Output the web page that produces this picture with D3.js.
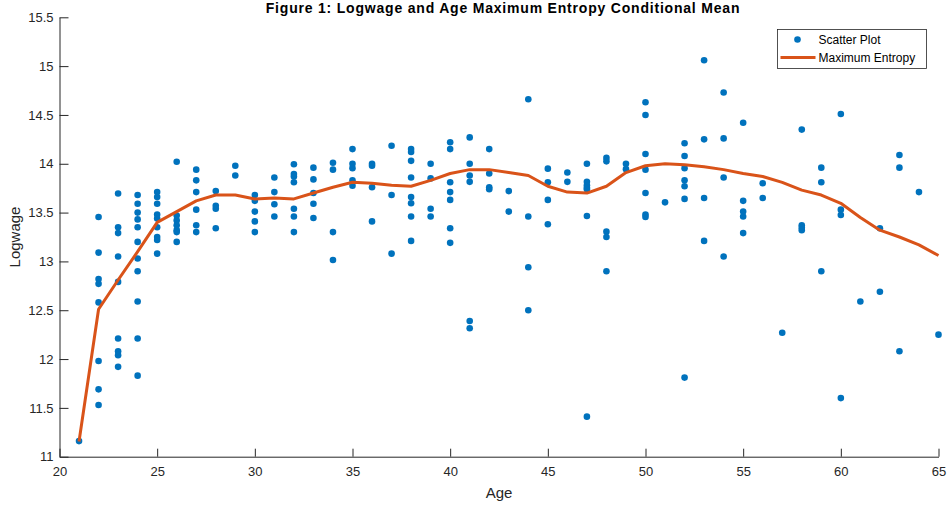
<!DOCTYPE html>
<html lang="en">
<head>
<meta charset="utf-8">
<title>Logwage and Age</title>
<style>
  body { margin: 0; background: #fff; }
  text { font-family: "Liberation Sans", Arial, sans-serif; fill: #262626; }
  .axis path, .axis line { stroke: #262626; }
  .axis text { font-size: 13px; fill: #262626; }
</style>
</head>
<body>
<script src="https://cdn.jsdelivr.net/npm/d3@7"></script>
<script>
// scatter data: one entry of logwage values per age
var scatterAges = [21, 22, 23, 24, 25, 26, 27, 28, 29, 30, 31, 32, 33, 34, 35, 36, 37, 38, 39, 40,
  41, 42, 43, 44, 45, 46, 47, 48, 49, 50, 51, 52, 53, 54, 55, 56, 57, 58, 59, 60, 61, 62, 63, 64, 65];
var scatterLogwage = [
  [11.16],
  [13.455, 13.09, 12.82, 12.77, 12.58, 11.98, 11.69, 11.53],
  [13.695, 13.35, 13.29, 13.05, 12.79, 12.21, 12.08, 12.04, 11.92],
  [13.68, 13.59, 13.50, 13.43, 13.35, 13.20, 13.03, 12.90, 12.59, 12.21, 11.83],
  [13.71, 13.66, 13.59, 13.48, 13.44, 13.35, 13.25, 13.22, 13.08],
  [14.02, 13.47, 13.42, 13.37, 13.32, 13.30, 13.20],
  [13.94, 13.83, 13.71, 13.53, 13.37, 13.30],
  [13.72, 13.57, 13.54, 13.34],
  [13.98, 13.88],
  [13.68, 13.62, 13.51, 13.41, 13.30],
  [13.86, 13.71, 13.585, 13.46],
  [13.995, 13.895, 13.87, 13.81, 13.54, 13.46, 13.30],
  [13.96, 13.84, 13.70, 13.59, 13.445],
  [14.01, 13.94, 13.30, 13.015],
  [14.15, 14.0, 13.955, 13.83, 13.775],
  [14.0, 13.98, 13.76, 13.41],
  [14.185, 13.68, 13.08],
  [14.15, 14.12, 14.03, 13.86, 13.66, 13.595, 13.46, 13.21],
  [14.0, 13.85, 13.54, 13.46],
  [14.22, 14.15, 13.81, 13.71, 13.63, 13.34, 13.19],
  [14.27, 14.0, 13.88, 13.815, 12.39, 12.315],
  [14.15, 13.90, 13.76, 13.74],
  [13.72, 13.51],
  [14.66, 13.46, 12.94, 12.50],
  [13.95, 13.81, 13.63, 13.38],
  [13.91, 13.815],
  [14.0, 13.815, 13.78, 13.755, 13.74, 13.465, 11.41],
  [14.06, 14.025, 13.305, 13.25, 12.90],
  [14.0, 13.945],
  [14.63, 14.50, 14.10, 13.94, 13.70, 13.48, 13.455],
  [13.605],
  [14.21, 14.08, 13.955, 13.83, 13.77, 13.64, 11.81],
  [15.06, 14.25, 13.65, 13.21],
  [14.73, 14.26, 13.86, 13.05],
  [14.42, 13.62, 13.51, 13.46, 13.29],
  [13.80, 13.65],
  [12.27],
  [14.35, 13.37, 13.345, 13.32],
  [13.96, 13.81, 12.90],
  [14.51, 13.53, 13.475, 11.60],
  [12.59],
  [13.34, 12.69],
  [14.09, 13.96, 12.08],
  [13.71],
  [12.25]
];

// maximum entropy conditional mean
var meAges = [21, 22, 23, 24, 25, 26, 27, 28, 29, 30, 31, 32, 33, 34, 35, 36, 37, 38, 39, 40,
  41, 42, 43, 44, 45, 46, 47, 48, 49, 50, 51, 52, 53, 54, 55, 56, 57, 58, 59, 60, 61, 62, 63, 64, 65];
var meLogwage = [11.155, 12.51, 12.81, 13.10, 13.40, 13.51, 13.62, 13.68, 13.68, 13.64,
  13.65, 13.64, 13.70, 13.76, 13.81, 13.80, 13.78, 13.77, 13.83, 13.90,
  13.94, 13.94, 13.91, 13.88, 13.77, 13.71, 13.70, 13.77, 13.91, 13.98,
  14.00, 13.99, 13.97, 13.94, 13.90, 13.87, 13.81, 13.73, 13.68, 13.595,
  13.45, 13.32, 13.25, 13.17, 13.06];

var xTicks = [20, 25, 30, 35, 40, 45, 50, 55, 60, 65];
var yTicks = [11, 11.5, 12, 12.5, 13, 13.5, 14, 14.5, 15, 15.5];

// plot box (plotLeft etc. to avoid window.top clash)
var w = 948, h = 508;
var plotLeft = 59.5, plotRight = 938.5, plotTop = 17.3, plotBottom = 456.7;
var blue = "#0072BD", orange = "#D95319";

var svg = d3.select("body").append("svg")
  .attr("width", w)
  .attr("height", h);

var xScale = d3.scaleLinear().domain([20, 65]).range([plotLeft, plotRight]);
var yScale = d3.scaleLinear().domain([11, 15.5]).range([plotBottom, plotTop]);

// flatten scatter into points
var points = [];
scatterAges.forEach(function(a, i) {
  scatterLogwage[i].forEach(function(v) { points.push([a, v]); });
});

// axes, ticks point inward; labels like 15.5, 15, 14.5 ...
var xAxis = d3.axisBottom(xScale).tickValues(xTicks).tickSizeInner(-8).tickSizeOuter(0).tickPadding(10);
var yAxis = d3.axisLeft(yScale).tickValues(yTicks).tickFormat(d3.format("~g"))
  .tickSizeInner(-9).tickSizeOuter(0).tickPadding(6);

svg.append("g")
  .attr("class", "axis xaxis")
  .attr("transform", "translate(0," + plotBottom + ")")
  .call(xAxis);

svg.append("g")
  .attr("class", "axis yaxis")
  .attr("transform", "translate(" + plotLeft + ",0)")
  .call(yAxis);

svg.selectAll(".axis").attr("font-family", null).attr("font-size", null);

// scatter points
svg.append("g").selectAll("circle")
  .data(points)
  .enter()
  .append("circle")
  .attr("cx", function(d) { return xScale(d[0]); })
  .attr("cy", function(d) { return yScale(d[1]); })
  .attr("r", 3.3)
  .attr("fill", blue);

// maximum entropy line
var line = d3.line()
  .x(function(d, i) { return xScale(meAges[i]); })
  .y(function(d) { return yScale(d); });

svg.append("path")
  .datum(meLogwage)
  .attr("d", line)
  .attr("fill", "none")
  .attr("stroke", orange)
  .attr("stroke-width", 3)
  .attr("stroke-linejoin", "round");

// title and axis labels
svg.append("text")
  .attr("x", (plotLeft + plotRight) / 2 + 4)
  .attr("y", 12.7)
  .attr("text-anchor", "middle")
  .style("font-size", "14px")
  .style("letter-spacing", "0.8px")
  .style("font-weight", "bold")
  .style("fill", "#000")
  .text("Figure 1: Logwage and Age Maximum Entropy Conditional Mean");

svg.append("text")
  .attr("x", (plotLeft + plotRight) / 2)
  .attr("y", 498)
  .attr("text-anchor", "middle")
  .style("font-size", "15px")
  .text("Age");

svg.append("text")
  .attr("transform", "translate(20," + (plotTop + plotBottom) / 2 + ") rotate(-90)")
  .attr("text-anchor", "middle")
  .style("font-size", "15px")
  .text("Logwage");

// legend
var legend = svg.append("g").attr("transform", "translate(777.5,29.5)");
legend.append("rect")
  .attr("width", 149)
  .attr("height", 39)
  .attr("fill", "#fff")
  .attr("stroke", "#262626")
  .attr("stroke-width", 0.8);
legend.append("circle")
  .attr("cx", 20)
  .attr("cy", 10)
  .attr("r", 3.3)
  .attr("fill", blue);
legend.append("line")
  .attr("x1", 3).attr("x2", 38)
  .attr("y1", 28).attr("y2", 28)
  .attr("stroke", orange)
  .attr("stroke-width", 3);
legend.append("text")
  .attr("x", 41).attr("y", 14.5)
  .style("font-size", "12px")
  .style("fill", "#000")
  .text("Scatter Plot");
legend.append("text")
  .attr("x", 41).attr("y", 32.5)
  .style("font-size", "12px")
  .style("fill", "#000")
  .text("Maximum Entropy");
</script>
</body>
</html>
